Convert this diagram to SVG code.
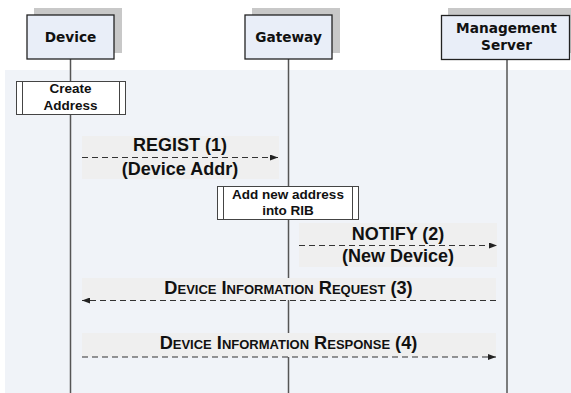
<svg xmlns="http://www.w3.org/2000/svg" width="571" height="393" viewBox="0 0 571 393">
<defs>
<style>
.shadow{fill:#c8c8c8}
.head{fill:#e9eef8;stroke:#222;stroke-width:1.3}
.htxt{font-family:"DejaVu Sans",Verdana,sans-serif;font-weight:bold;font-size:13.7px;fill:#111;text-anchor:middle}
.life{stroke:#555;stroke-width:1.5;fill:none}
.act{fill:#fff;stroke:#444;stroke-width:1}
.atxt{font-family:"Liberation Sans",Arial,sans-serif;font-weight:bold;font-size:13.5px;fill:#111;text-anchor:middle}
.band{fill:#efefef}
.msg{stroke:#333;stroke-width:1.2;stroke-dasharray:6,4;fill:none}
.mtxt{font-family:"Liberation Sans",Arial,sans-serif;font-weight:bold;font-size:18px;fill:#111;text-anchor:middle}
.sc{font-family:"Liberation Sans",Arial,sans-serif;font-weight:bold;font-size:18.2px;font-variant:small-caps;fill:#111;text-anchor:middle}
</style>
<marker id="ah" viewBox="0 0 8 6" refX="8" refY="3" markerWidth="8" markerHeight="6" markerUnits="userSpaceOnUse" orient="auto">
<path d="M0,0 L8,3 L0,6 Z" fill="#222"/>
</marker>
</defs>
<rect x="0" y="0" width="571" height="393" fill="#fff"/>
<rect x="5" y="70" width="566" height="323" fill="#f0f3f8"/>
<g id="lifelines">
<line class="life" x1="70.5" y1="59" x2="70.5" y2="393"/>
<line class="life" x1="288.5" y1="59" x2="288.5" y2="393"/>
<line class="life" x1="507" y1="59" x2="507" y2="393"/>
</g>
<g id="device">
<rect class="shadow" x="34" y="8" width="88" height="45"/>
<rect class="head" x="27" y="15" width="87" height="44"/>
<text class="htxt" x="70.5" y="42">Device</text>
</g>
<g id="gateway">
<rect class="shadow" x="252" y="8" width="88" height="45"/>
<rect class="head" x="245" y="15" width="87" height="44"/>
<text class="htxt" x="288.5" y="42">Gateway</text>
</g>
<g id="server">
<rect class="shadow" x="448" y="8" width="123" height="45"/>
<rect class="head" x="441.5" y="15.5" width="128" height="44"/>
<text class="htxt" x="506.5" y="33">Management</text>
<text class="htxt" x="506.5" y="50">Server</text>
</g>
<g id="create-address">
<rect class="act" x="16.5" y="81.5" width="109" height="33"/>
<line stroke="#444" x1="22.5" y1="81.5" x2="22.5" y2="114.5"/>
<line stroke="#444" x1="119.5" y1="81.5" x2="119.5" y2="114.5"/>
<text class="atxt" x="70.5" y="93">Create</text>
<text class="atxt" x="70.5" y="110">Address</text>
</g>
<g id="add-address">
<rect class="act" x="217.5" y="186.5" width="141" height="33"/>
<line stroke="#444" x1="223.5" y1="186.5" x2="223.5" y2="219.5"/>
<line stroke="#444" x1="352.5" y1="186.5" x2="352.5" y2="219.5"/>
<text class="atxt" x="288" y="198.5">Add new address</text>
<text class="atxt" x="288" y="215">into RIB</text>
</g>
<g id="connectors">
<rect class="band" x="82" y="136" width="197" height="43"/>
<line class="msg" x1="82" y1="157.5" x2="278" y2="157.5" marker-end="url(#ah)"/>
<text class="mtxt" x="180" y="151">REGIST (1)</text>
<text class="mtxt" x="180" y="175">(Device Addr)</text>
<rect class="band" x="299" y="223" width="198" height="44"/>
<line class="msg" x1="299" y1="245.5" x2="497" y2="245.5" marker-end="url(#ah)"/>
<text class="mtxt" x="398" y="240">NOTIFY (2)</text>
<text class="mtxt" x="398" y="262">(New Device)</text>
<rect class="band" x="82" y="278" width="414" height="22"/>
<line class="msg" x1="496" y1="300.5" x2="82" y2="300.5" marker-end="url(#ah)"/>
<text class="sc" x="288.5" y="294">Device Information Request (3)</text>
<rect class="band" x="82" y="333" width="414" height="24"/>
<line class="msg" x1="82" y1="357" x2="496" y2="357" marker-end="url(#ah)"/>
<text class="sc" x="288.5" y="349">Device Information Response (4)</text>
</g>
</svg>
